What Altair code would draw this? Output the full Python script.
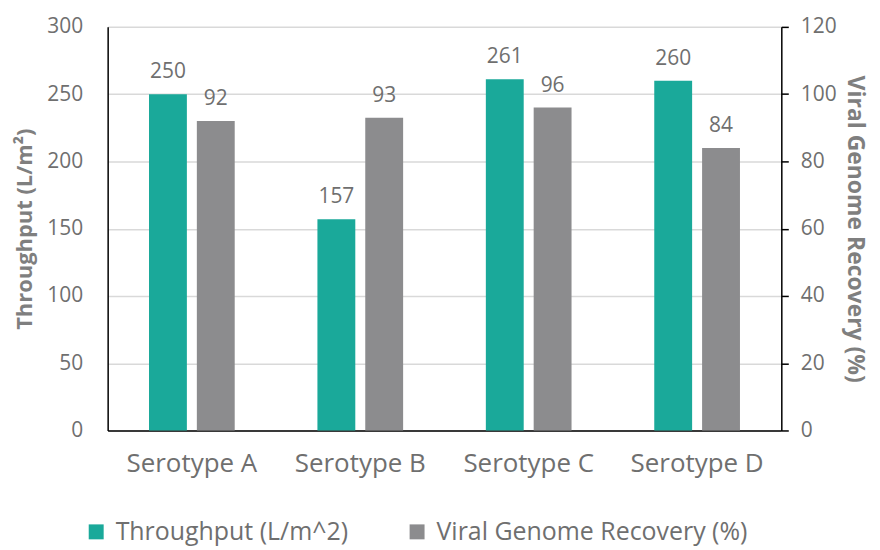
import altair as alt
import pandas as pd

categories = ["Serotype A", "Serotype B", "Serotype C", "Serotype D"]
throughput = [250, 157, 261, 260]
recovery = [92, 93, 96, 84]
series_names = ["Throughput (L/m^2)", "Viral Genome Recovery (%)"]
colors = ["#1AA99A", "#8C8C8E"]

df_t = pd.DataFrame({"cat": categories, "val": throughput, "series": series_names[0]})
df_r = pd.DataFrame({"cat": categories, "val": recovery, "series": series_names[1]})

FONT = "Open Sans"
TXT = "#6F6F6F"
TTL = "#7F7F7F"

x = alt.X("cat:N", sort=categories, title=None,
          axis=alt.Axis(labelAngle=0, labelFontSize=26, labelColor=TXT, labelPadding=20,
                        ticks=False, domainColor="#000000", domainWidth=1.5, labelFont=FONT))
color = alt.Color("series:N", scale=alt.Scale(domain=series_names, range=colors),
                  legend=alt.Legend(orient="none", legendX=-24, legendY=494, title=None,
                                    direction="horizontal", symbolType="square", symbolSize=225,
                                    labelFontSize=25, labelColor=TXT, labelFont=FONT, labelLimit=500,
                                    labelOffset=7, columnPadding=56, symbolStrokeWidth=0))

yl = alt.Y("val:Q", scale=alt.Scale(domain=[0, 300]),
           title="Throughput (L/m²)",
           axis=alt.Axis(values=[0, 50, 100, 150, 200, 250, 300], labelFontSize=21, labelColor=TXT,
                         titleFontSize=22, titleColor=TTL, titleFontWeight="bold", titleFont=FONT,
                         labelFont=FONT, domainColor="#000000", domainWidth=1.5, ticks=False,
                         labelPadding=25, gridColor="#D9D9D9", gridWidth=1.5, titlePadding=10))
yr = alt.Y("val:Q", scale=alt.Scale(domain=[0, 120]),
           title="Viral Genome Recovery (%)",
           axis=alt.Axis(orient="right", values=[0, 20, 40, 60, 80, 100, 120], labelFontSize=21,
                         labelColor=TXT, titleFontSize=23, titleColor=TTL, titleFontWeight="bold",
                         titleFont=FONT, labelFont=FONT, domainColor="#000000", domainWidth=1.5,
                         tickColor="#000000", tickWidth=1.5, tickSize=7, labelPadding=12,
                         grid=False, titlePadding=6, titleLimit=500))

bars_t = alt.Chart(df_t).mark_bar(width=38, xOffset=-24).encode(x=x, y=yl, color=color)
text_t = alt.Chart(df_t).mark_text(xOffset=-24, dy=-22, fontSize=21, color=TXT, font=FONT).encode(
    x=x, y=yl, text="val:Q")
bars_r = alt.Chart(df_r).mark_bar(width=38, xOffset=24).encode(x=x, y=yr, color=color)
text_r = alt.Chart(df_r).mark_text(xOffset=24, dy=-22, fontSize=21, color=TXT, font=FONT).encode(
    x=x, y=yr, text="val:Q")

left = alt.layer(bars_t, text_t)
right = alt.layer(bars_r, text_r)

chart = alt.layer(left, right).resolve_scale(y="independent").properties(
    width=676, height=405,
    padding={"left": 5, "top": 7, "right": 6, "bottom": 0}
).configure(background="white").configure_view(stroke=None)

chart.save("out.html", embed_options={"renderer": "svg", "actions": False})
